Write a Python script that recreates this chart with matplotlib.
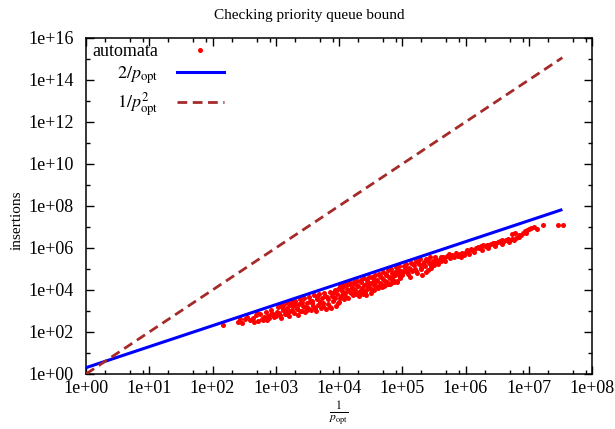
import matplotlib
matplotlib.use('Agg')
import matplotlib.pyplot as plt
from matplotlib.ticker import FixedLocator, FixedFormatter, NullFormatter
from matplotlib.lines import Line2D

plt.rcParams['font.family'] = ['Liberation Serif', 'DejaVu Serif']
plt.rcParams['mathtext.fontset'] = 'stix'

# ---------------- text ----------------
title = 'Checking priority queue bound'
x_label = r'$\frac{1}{p_{\rm opt}}$'
y_label = 'insertions'
legend_labels = ['automata', r'$2/p_{\rm opt}$', r'$1/p_{\rm opt}^2$']

# ---------------- ticks ----------------
x_ticks = [1e0, 1e1, 1e2, 1e3, 1e4, 1e5, 1e6, 1e7, 1e8]
x_tick_labels = ['1e+00', '1e+01', '1e+02', '1e+03', '1e+04', '1e+05', '1e+06', '1e+07', '1e+08']
x_minor_ticks = [2e0, 5e0, 8e0, 2e1, 5e1, 8e1, 2e2, 5e2, 8e2, 2e3, 5e3, 8e3,
                 2e4, 5e4, 8e4, 2e5, 5e5, 8e5, 2e6, 5e6, 8e6, 2e7, 5e7, 8e7]
y_ticks = [1e0, 1e2, 1e4, 1e6, 1e8, 1e10, 1e12, 1e14, 1e16]
y_tick_labels = ['1e+00', '1e+02', '1e+04', '1e+06', '1e+08', '1e+10', '1e+12', '1e+14', '1e+16']
y_minor_ticks = [1e1, 1e3, 1e5, 1e7, 1e9, 1e11, 1e13, 1e15]

# ---------------- bound curves ----------------
bound_x = [1.0, 3.4e7]
bound_linear = [2.0, 6.8e7]      # 2/p_opt
bound_square = [1.0, 1.16e15]    # 1/p_opt^2

# ---------------- automata measurements ----------------
automata_x = [
    # 1e2 .. 1e3
    1.48e2, 2.51e2, 2.69e2, 2.95e2, 3.55e2, 3.98e2, 4.37e2, 4.79e2, 5.25e2, 5.62e2,
    6.03e2, 6.31e2, 6.92e2, 7.59e2, 7.94e2, 8.51e2, 9.12e2,
    3.31e2, 4.57e2, 5.01e2, 6.61e2, 7.24e2, 8.32e2, 9.55e2,
    # 1e3 .. 1e4
    1.00e3, 1.07e3, 1.12e3, 1.17e3, 1.23e3, 1.29e3, 1.35e3, 1.41e3, 1.48e3, 1.55e3,
    1.62e3, 1.70e3, 1.78e3, 1.86e3, 1.95e3, 2.04e3, 2.14e3, 2.24e3, 2.34e3, 2.45e3,
    2.57e3, 2.69e3, 2.82e3, 2.95e3, 3.09e3, 3.24e3, 3.39e3, 3.55e3, 3.72e3, 3.89e3,
    4.07e3, 4.27e3, 4.47e3, 4.68e3, 4.90e3, 5.13e3, 5.37e3, 5.62e3, 5.89e3, 6.17e3,
    6.46e3, 6.76e3, 7.08e3, 7.41e3, 7.76e3, 8.13e3, 8.51e3, 8.91e3, 9.33e3, 9.77e3,
    1.05e3, 1.15e3, 1.26e3, 1.38e3, 1.51e3, 1.66e3, 1.82e3, 2.00e3, 2.19e3, 2.40e3,
    2.63e3, 2.88e3, 3.16e3, 3.47e3, 3.80e3, 4.17e3, 4.57e3, 5.01e3, 5.50e3, 6.03e3,
    6.61e3, 7.24e3, 7.94e3, 8.71e3, 9.55e3,
    # 1e4 .. 1e5
    1.00e4, 1.05e4, 1.07e4, 1.12e4, 1.17e4, 1.20e4, 1.26e4, 1.32e4, 1.35e4, 1.41e4,
    1.48e4, 1.51e4, 1.58e4, 1.66e4, 1.70e4, 1.78e4, 1.86e4, 1.91e4, 2.00e4, 2.09e4,
    2.14e4, 2.24e4, 2.34e4, 2.40e4, 2.51e4, 2.63e4, 2.69e4, 2.82e4, 2.95e4, 3.02e4,
    3.16e4, 3.31e4, 3.39e4, 3.55e4, 3.72e4, 3.80e4, 3.98e4, 4.17e4, 4.27e4, 4.47e4,
    4.68e4, 4.79e4, 5.01e4, 5.25e4, 5.37e4, 5.62e4, 5.89e4, 6.03e4, 6.31e4, 6.61e4,
    6.76e4, 7.08e4, 7.41e4, 7.59e4, 7.94e4, 8.32e4, 8.51e4, 8.91e4, 9.33e4, 9.55e4,
    1.02e4, 1.10e4, 1.15e4, 1.23e4, 1.29e4, 1.38e4, 1.45e4, 1.55e4, 1.62e4, 1.74e4,
    1.82e4, 1.95e4, 2.04e4, 2.19e4, 2.29e4, 2.45e4, 2.57e4, 2.75e4, 2.88e4, 3.09e4,
    3.24e4, 3.47e4, 3.63e4, 3.89e4, 4.07e4, 4.37e4, 4.57e4, 4.90e4, 5.13e4, 5.50e4,
    5.75e4, 6.17e4, 6.46e4, 6.92e4, 7.24e4, 7.76e4, 8.13e4, 8.71e4, 9.12e4, 9.77e4,
    # 1e5 .. 5e5
    1.00e5, 1.05e5, 1.10e5, 1.15e5, 1.20e5, 1.26e5, 1.32e5, 1.38e5, 1.45e5, 1.51e5,
    1.58e5, 1.66e5, 1.74e5, 1.82e5, 1.91e5, 2.00e5, 2.09e5, 2.19e5, 2.29e5, 2.40e5,
    2.51e5, 2.63e5, 2.75e5, 2.88e5, 3.02e5, 3.16e5, 3.31e5, 3.55e5, 3.80e5, 4.17e5,
    4.57e5,
    1.02e5, 1.12e5, 1.23e5, 1.35e5, 1.48e5, 1.62e5, 1.78e5, 1.95e5, 2.14e5, 2.34e5,
    2.57e5, 2.82e5, 3.09e5, 3.39e5, 3.72e5, 4.07e5, 4.47e5, 4.79e5,
    # 5e5 .. 4e7
    5.01e5, 5.50e5, 5.75e5, 6.17e5, 6.61e5, 7.08e5, 7.59e5, 8.13e5, 8.91e5, 9.55e5,
    1.00e6, 1.07e6, 1.15e6, 1.23e6, 1.32e6, 1.45e6, 1.55e6, 1.66e6, 1.78e6, 1.91e6,
    2.04e6, 2.19e6, 2.34e6, 2.51e6, 2.69e6, 2.88e6, 3.09e6, 3.31e6, 3.55e6, 3.80e6,
    4.07e6, 4.37e6, 4.68e6, 5.01e6, 5.37e6, 5.50e6, 6.03e6, 6.31e6, 6.92e6, 7.59e6,
    8.13e6, 8.71e6, 9.33e6, 1.00e7, 1.10e7, 1.20e7, 1.35e7, 1.66e7, 2.88e7, 3.47e7,
    8.51e5, 1.12e6, 1.38e6, 1.82e6, 2.29e6, 2.95e6, 3.72e6, 4.79e6, 5.89e6, 7.08e6,
    8.91e6,
]
automata_y = [
    # 1e2 .. 1e3
    2.14e2, 3.16e2, 4.17e2, 2.82e2, 5.25e2, 3.80e2, 4.68e2, 6.31e2, 3.31e2, 7.24e2,
    4.17e2, 3.55e2, 8.91e2, 6.03e2, 4.47e2, 1.12e3, 7.08e2,
    3.98e2, 3.16e2, 7.94e2, 5.25e2, 3.80e2, 7.59e2, 5.01e2,
    # 1e3 .. 1e4
    5.62e2, 1.58e3, 7.94e2, 2.00e3, 4.79e2, 1.12e3, 2.24e3, 7.08e2, 1.41e3, 2.51e3,
    6.03e2, 1.00e3, 2.82e3, 1.66e3, 7.94e2, 3.16e3, 1.26e3, 6.31e2, 2.24e3, 3.55e3,
    1.00e3, 1.78e3, 4.17e3, 8.91e2, 2.51e3, 1.41e3, 4.79e3, 1.12e3, 3.02e3, 1.78e3,
    5.62e3, 1.00e3, 3.55e3, 2.00e3, 6.31e3, 1.32e3, 3.98e3, 2.51e3, 7.59e3, 1.20e3,
    4.47e3, 2.24e3, 8.32e3, 1.41e3, 5.01e3, 3.16e3, 1.00e4, 1.78e3, 6.31e3, 1.12e4,
    8.91e2, 6.31e2, 1.51e3, 1.00e3, 7.59e2, 1.91e3, 1.12e3, 2.24e3, 1.41e3, 9.55e2,
    2.82e3, 1.58e3, 1.12e3, 3.16e3, 2.40e3, 1.41e3, 4.47e3, 2.82e3, 1.78e3, 5.01e3,
    3.55e3, 1.58e3, 7.08e3, 3.98e3, 2.51e3,
    # 1e4 .. 1e5
    2.82e3, 1.58e4, 5.01e3, 8.91e3, 1.78e4, 3.55e3, 7.08e3, 2.00e4, 1.12e4, 4.17e3,
    2.24e4, 7.94e3, 1.41e4, 5.62e3, 2.51e4, 1.00e4, 6.31e3, 2.82e4, 1.58e4, 5.25e3,
    8.91e3, 3.16e4, 1.26e4, 6.61e3, 3.55e4, 2.00e4, 6.03e3, 1.12e4, 3.98e4, 1.78e4,
    7.59e3, 4.17e4, 2.51e4, 1.00e4, 5.01e4, 1.58e4, 3.16e4, 1.26e4, 6.03e4, 2.24e4,
    3.98e4, 1.41e4, 7.08e4, 2.82e4, 1.78e4, 5.01e4, 2.00e4, 8.91e4, 3.55e4, 2.24e4,
    1.00e5, 4.47e4, 2.51e4, 7.08e4, 1.26e5, 2.82e4, 5.62e4, 1.41e5, 3.55e4, 7.94e4,
    3.98e3, 1.26e4, 6.31e3, 1.66e4, 4.79e3, 9.55e3, 1.91e4, 7.08e3, 1.20e4, 2.09e4,
    8.32e3, 1.51e4, 7.08e3, 2.51e4, 1.00e4, 1.78e4, 7.94e3, 3.02e4, 1.41e4, 2.24e4,
    1.12e4, 3.55e4, 1.78e4, 2.63e4, 1.41e4, 4.47e4, 2.00e4, 3.31e4, 1.58e4, 5.62e4,
    2.51e4, 4.17e4, 1.91e4, 6.31e4, 3.16e4, 5.25e4, 2.40e4, 8.91e4, 3.98e4, 6.31e4,
    # 1e5 .. 5e5
    5.01e4, 1.41e5, 8.91e4, 1.78e5, 7.08e4, 1.12e5, 4.17e4, 2.00e5, 7.94e4, 1.51e5,
    1.00e5, 2.51e5, 6.31e4, 1.66e5, 3.02e5, 1.12e5, 5.25e4, 2.24e5, 1.41e5, 3.16e5,
    8.91e4, 2.00e5, 3.55e5, 1.32e5, 2.51e5, 1.58e5, 3.80e5, 2.24e5, 2.82e5, 3.55e5,
    3.02e5,
    7.59e4, 1.26e5, 5.62e4, 1.05e5, 1.66e5, 8.32e4, 2.09e5, 9.55e4, 1.78e5, 7.59e4,
    2.63e5, 1.12e5, 2.00e5, 2.82e5, 1.78e5, 2.51e5, 3.80e5, 2.51e5,
    # 5e5 .. 4e7
    3.98e5, 5.25e5, 3.31e5, 4.57e5, 3.80e5, 5.62e5, 4.17e5, 5.01e5, 6.03e5, 4.79e5,
    6.61e5, 7.94e5, 7.24e5, 9.12e5, 8.32e5, 1.00e6, 1.12e6, 1.05e6, 1.20e6, 1.32e6,
    1.26e6, 1.45e6, 1.38e6, 1.58e6, 1.66e6, 1.82e6, 1.74e6, 2.00e6, 2.09e6, 2.29e6,
    2.19e6, 2.51e6, 2.63e6, 2.40e6, 2.82e6, 4.57e6, 5.01e6, 3.02e6, 3.31e6, 3.98e6,
    5.25e6, 6.31e6, 7.24e6, 7.94e6, 8.91e6, 9.55e6, 8.32e6, 1.20e7, 1.26e7, 1.26e7,
    3.80e5, 5.25e5, 6.31e5, 8.32e5, 1.00e6, 1.20e6, 1.51e6, 1.91e6, 2.51e6, 4.17e6,
    5.25e6,
]

# ---------------- figure ----------------
W, H = 615, 429
fig = plt.figure(figsize=(W / 100, H / 100), dpi=100)
ax = fig.add_axes([86 / W, 55 / H, 506 / W, 336 / H])
ax.set_xscale('log')
ax.set_yscale('log')

ax.scatter(automata_x, automata_y, s=13, c='#ff0000', linewidths=0, zorder=2)
ax.plot(bound_x, bound_linear, color='#0000ff', lw=2.2, zorder=3, solid_capstyle='butt')
ax.plot(bound_x, bound_square, color='#a52a2a', lw=2.0, dashes=(3.5, 2.0), zorder=3)

ax.set_xlim(x_ticks[0], x_ticks[-1])
ax.set_ylim(y_ticks[0], y_ticks[-1])

ax.xaxis.set_major_locator(FixedLocator(x_ticks))
ax.xaxis.set_major_formatter(FixedFormatter(x_tick_labels))
ax.xaxis.set_minor_locator(FixedLocator(x_minor_ticks))
ax.xaxis.set_minor_formatter(NullFormatter())
ax.yaxis.set_major_locator(FixedLocator(y_ticks))
ax.yaxis.set_major_formatter(FixedFormatter(y_tick_labels))
ax.yaxis.set_minor_locator(FixedLocator(y_minor_ticks))
ax.yaxis.set_minor_formatter(NullFormatter())

ax.tick_params(which='both', direction='in', top=True, right=True, width=1.0, colors='black')
ax.tick_params(which='major', length=6)
ax.tick_params(which='minor', length=3)
ax.tick_params(axis='x', which='major', labelsize=13, pad=4)
ax.tick_params(axis='y', which='major', labelsize=13, pad=9)
for sp in ax.spines.values():
    sp.set_linewidth(1.1)

fig.text(309 / W, 1 - 15 / H, title, ha='center', va='center', fontsize=11)
fig.text(17 / W, 1 - 220 / H, y_label, ha='center', va='center', rotation=90, fontsize=11)
fig.text(339 / W, 1 - 413 / H, x_label, ha='center', va='center', fontsize=12)

handles = [
    Line2D([], [], ls='none', marker='o', ms=3.6, mfc='#ff0000', mec='none'),
    Line2D([], [], color='#0000ff', lw=2.2),
    Line2D([], [], color='#a52a2a', lw=2.0, dashes=(3.5, 2.0)),
]
ax.legend(handles, legend_labels, loc='upper left', bbox_to_anchor=(0.012, 0.985),
          frameon=False, markerfirst=False, fontsize=13, handlelength=2.6,
          handletextpad=1.05, labelspacing=0.25, borderpad=0, borderaxespad=0,
          numpoints=1)

fig.savefig('out.png', dpi=100)
